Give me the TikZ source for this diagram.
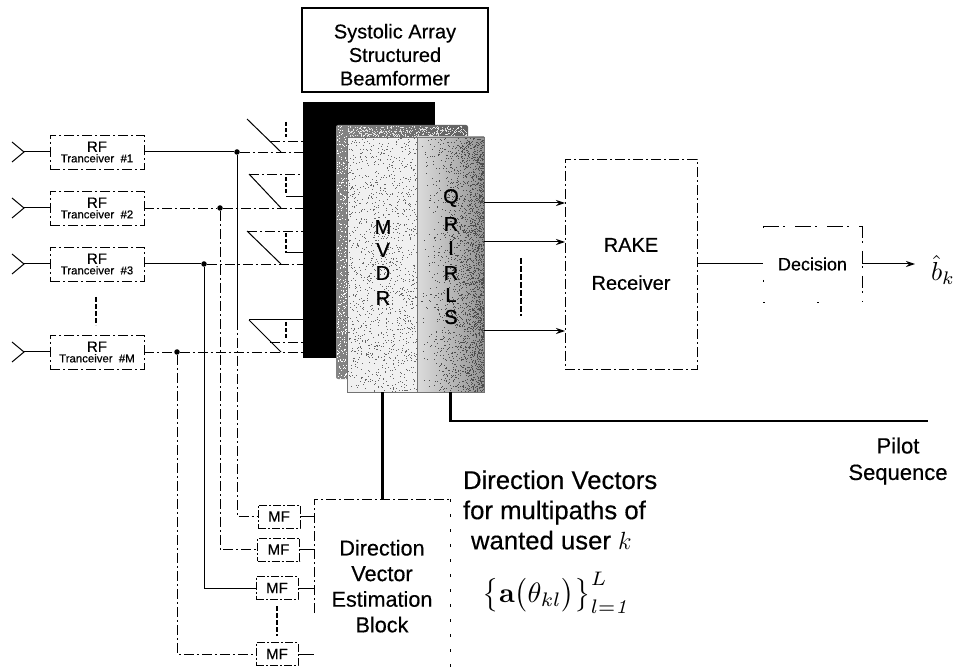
\documentclass[tikz,border=0pt]{standalone}
\usepackage[no-math]{fontspec}
\setmainfont[FakeBold=0.4]{Liberation Sans}
\newfontfamily\lblfont[FakeBold=1]{Liberation Sans}
\usetikzlibrary{arrows.meta,calc}
\newcommand{\fsz}[1]{\fontsize{#1}{#1}\selectfont}
\tikzset{
  wire/.style={line width=1pt,black},
  brk/.style={line width=0.8pt,black,dash pattern=on 10pt off 3pt on 2pt off 3pt},
  sparse/.style={line width=0.8pt,black,dash pattern=on 2pt off 16pt},
  thickdash/.style={line width=2pt,black,dash pattern=on 5pt off 2pt},
  sw/.style={line width=0.8pt,black,dash pattern=on 4pt off 2pt},
  arr/.style={wire,-{Stealth[length=9pt,width=6pt]}},
  rfbox/.style={brk,minimum width=94pt,minimum height=34pt,inner sep=0pt,outer sep=0pt,align=center,text opacity=1},
  mfbox/.style={line width=0.9pt,black,dash pattern=on 8pt off 2pt on 2pt off 2pt,minimum width=42pt,minimum height=23pt,inner sep=0pt,outer sep=0pt,font=\fsz{15}},
  layer/.style={inner sep=0pt,outer sep=0pt},
  jun/.style={circle,fill=black,inner sep=0pt,minimum size=5.5pt},
  lab/.style={inner sep=0pt,outer sep=0pt,align=center},
  big letter/.style={lab,font=\lblfont\fsz{20}},
}
\begin{document}
\begin{tikzpicture}[x=1pt,y=-1pt]
\useasboundingbox (0,0) rectangle (956,668);
\pgfmathsetseed{4711}
% top box
\node[draw=black,line width=1.1pt,minimum width=186pt,minimum height=84pt,inner sep=0pt,align=center,font=\fsz{20}] (sys) at (395,50) {\rule{0pt}{24pt}Systolic Array\\[3.5pt]Structured\\[3.5pt]Beamformer};
% stacked layers
\node[layer,fill=black,minimum width=132pt,minimum height=256pt] (blk) at (369,230) {};
\node[layer,left color=black!48,right color=black!62,minimum width=132pt,minimum height=254pt,rounded corners=2pt] (back) at (402,252) {};
\foreach \i in {1,...,400}{
  \pgfmathsetmacro{\px}{336.5+10.5*rnd}
  \pgfmathsetmacro{\py}{126+252*rnd}
  \fill[white] (\px,\py) rectangle +(0.7,0.7);
}
\foreach \i in {1,...,400}{
  \pgfmathsetmacro{\px}{347+120*rnd}
  \pgfmathsetmacro{\py}{126+11*rnd}
  \fill[white,opacity=0.8] (\px,\py) rectangle +(0.7,0.7);
}
\node[layer,fill=black!6,draw=black!55,line width=0.6pt,minimum width=70pt,minimum height=255pt] (mvdr) at (382,264.5) {};
\node[layer,left color=black!14,right color=black!42,draw=black!55,line width=0.6pt,minimum width=67pt,minimum height=255pt] (qr) at (450.5,264.5) {};
\foreach \i in {1,...,1300}{
  \pgfmathsetmacro{\px}{347.5+69*rnd}
  \pgfmathsetmacro{\py}{137.5+254*rnd}
  \fill[black!60] (\px,\py) rectangle +(0.55,0.55);
}
\foreach \i in {1,...,2500}{
  \pgfmathsetmacro{\px}{483.3-66*rnd*rnd}
  \pgfmathsetmacro{\py}{137.5+254*rnd}
  \fill[black!70] (\px,\py) rectangle +(0.6,0.6);
}
\foreach \t/\y in {M/227,V/250,D/273,R/298}
  \node[big letter] (m\t) at (383,\y) {\t};
\node[big letter] (q1) at (451,198) {Q};
\node[big letter] (q2) at (451,224) {R};
\node[big letter] (q3) at (451,248) {I};
\node[big letter] (q4) at (451,273) {R};
\node[big letter] (q5) at (451,295) {L};
\node[big letter] (q6) at (451,317) {S};
% RF boxes
\node[rfbox,draw] (rf1) at (97,152) {{\fsz{15}RF}\\[-1.5pt]{\fsz{11.4}Tranceiver\ \ \#1}};
\node[rfbox,draw] (rf2) at (97,208) {{\fsz{15}RF}\\[-1.5pt]{\fsz{11.4}Tranceiver\ \ \#2}};
\node[rfbox,draw] (rf3) at (97,264) {{\fsz{15}RF}\\[-1.5pt]{\fsz{11.4}Tranceiver\ \ \#3}};
\node[rfbox,draw] (rfm) at (97,352) {{\fsz{15}RF}\\[-1.5pt]{\fsz{11.4}Tranceiver\ \ \#M}};
% antennas
\foreach \n in {rf1,rf2,rf3,rfm}{
  \coordinate (t\n) at ($(\n.west)+(-26,0)$);
  \draw[wire] ($(t\n)+(-12,-10)$) -- (t\n) -- ($(t\n)+(-12,10)$);
  \draw[wire] (t\n) -- (\n.west);
}
% junctions
\node[jun] (j1) at (237,152) {};
\node[jun] (j2) at (220,208) {};
\node[jun] (j3) at (204,264) {};
\node[jun] (jm) at (177,352) {};
% feed lines
\draw[wire] (rf1.east) -- (j1);
\draw[brk] (j1) -- (j1 -| blk.west);
\draw[brk] (rf2.east) -- (j2);
\draw[brk] (j2) -- (j2 -| blk.west);
\draw[wire] (rf3.east) -- (j3);
\draw[brk] (j3) -- (j3 -| blk.west);
\draw[brk] (rfm.east) -- (jm);
\draw[brk] (jm) -- (jm -| blk.west);
% switches
\coordinate (s1a) at (247,119); \coordinate (s1b) at (281,152); \coordinate (s1c) at (270,141);
\coordinate (s2a) at (249,174); \coordinate (s2b) at (281,208); \coordinate (s2c) at (286,197);
\coordinate (s3a) at (247,231); \coordinate (s3b) at (281,264); \coordinate (s3c) at (286,253);
\coordinate (s4a) at (249,320); \coordinate (s4b) at (281,352); \coordinate (s4c) at (270,342);
\draw[wire] (s1a) -- (s1b);
\draw[brk] (s1c) -- (s1c -| blk.west);
\draw[wire] (s2a) -- (s2b);
\draw[brk] (s2a) -- (s2a -| blk.west);
\draw[wire] (s2c) -- (s2c -| blk.west);
\draw[wire] (s3a) -- (s3b);
\draw[brk] (s3a) -- (s3a -| blk.west);
\draw[wire] (s3c) -- (s3c -| blk.west);
\draw[wire] (s4a) -- (s4b);
\draw[wire] (s4a) -- (s4a -| blk.west);
\draw[brk] (s4c) -- (s4c -| blk.west);
% switch ganging marks
\coordinate (g1a) at (286,122); \coordinate (g1b) at (286,137);
\coordinate (g2a) at (286,177); \coordinate (g2b) at (286,194);
\coordinate (g3a) at (286,233); \coordinate (g3b) at (286,253);
\coordinate (g4a) at (286,322); \coordinate (g4b) at (286,338);
\foreach \g in {1,2,3,4} \draw[sw,line width=1.3pt] (g\g a) -- (g\g b);
% dots between RF boxes
\coordinate (d1a) at (96,297); \coordinate (d1b) at (96,325);
\draw[thickdash] (d1a) -- (d1b);
% MF boxes
\node[mfbox,draw] (mf1) at (279,516.5) {MF};
\node[mfbox,draw] (mf2) at (278.5,549.5) {MF};
\node[mfbox,draw] (mf3) at (277,588) {MF};
\node[mfbox,draw] (mf4) at (277,654) {MF};
\coordinate (d2a) at (277,606); \coordinate (d2b) at (277,636);
\draw[thickdash] (d2a) -- (d2b);
% MF feed lines
\coordinate (c1) at (237,320);
\draw[wire] (j1) -- (c1);
\draw[brk] (c1) |- (mf1.west);
\draw[brk] (j2) |- (mf2.west);
\draw[wire] (j3) |- (mf3.west);
\draw[brk] (jm) |- (mf4.west);
% estimation block
\node[lab,minimum width=136pt,minimum height=169pt,font=\fsz{21.6}] (dve) at (382,583.5) {\rule{0pt}{21pt}Direction\\[4pt]Vector\\[4pt]Estimation\\[4pt]Block};
\draw[brk] (dve.north west) ++(0,114) coordinate (dvl) -- (dve.north west) -- (dve.north east);
\draw[sparse,dash pattern=on 3pt off 12pt] (dve.north east) -- (dve.south east);
\draw[wire] (mf1.east) -- (mf1.east -| dve.west);
\draw[wire] (mf2.east) -- (mf2.east -| dve.west);
\draw[wire] (mf3.east) -- (mf3.east -| dve.west);
\draw[wire] (mf4.east) -- (mf4.east -| dve.west);
% MVDR to block, pilot
\draw[line width=3pt] (mvdr.south) -- (mvdr.south |- dve.north);
\coordinate (pil) at (928,421);
\draw[line width=2.4pt] (qr.south) -- (qr.south |- pil) -- (pil);
\node[lab,font=\fsz{22}] (piltxt) at (898,461) {Pilot\\[4.5pt]Sequence};
% RAKE
\node[lab,brk,draw,minimum width=132pt,minimum height=210pt,font=\fsz{20}] (rake) at (631,264) {RAKE\\[18pt]Receiver};
\coordinate (a1) at (rake.west |- 0,203);
\coordinate (a2) at (rake.west |- 0,242);
\coordinate (a3) at (rake.west |- 0,331);
\draw[arr] (a1 -| qr.east) -- (a1);
\draw[arr] (a2 -| qr.east) -- (a2);
\draw[arr] (a3 -| qr.east) -- (a3);
\coordinate (d3a) at (521,258); \coordinate (d3b) at (521,316);
\draw[thickdash,dash pattern=on 6pt off 2pt] (d3a) -- (d3b);
% decision
\node[lab,minimum width=99pt,minimum height=76pt,font=\fsz{18}] (dec) at (812.5,264) {Decision};
\draw[brk,dash pattern=on 16pt off 4pt on 2pt off 10pt] (dec.north west) -- (dec.north east);
\draw[brk,dash pattern=on 12pt off 3pt on 2pt off 8pt] (dec.north east) -- (dec.south east);
\draw[sparse,dash pattern=on 2pt off 52pt] (dec.north west) -- (dec.south west);
\draw[sparse,dash pattern=on 2pt off 52pt] (dec.south west) -- (dec.south east);
\draw[wire] (rake.east) -- (dec.west);
\node[lab] (bhat) at (943,270) {\scalebox{2.6}{$\hat{b}_{k}$}};
\coordinate (bend) at (915,264);
\draw[arr] (dec.east) -- (bend);
% direction vectors text
\node[lab,align=left,font=\fsz{25.7},anchor=west] (dirtxt) at (463,510) {Direction Vectors\\[4.5pt]for multipaths of\\[4.5pt]\hspace*{8pt}wanted user $k$};
\node[lab] (form) at (557,593) {\scalebox{2.8}{$\big\{\mathbf{a}\big(\theta_{kl}\big)\big\}_{l=\mathit{1}}^{L}$}};
\end{tikzpicture}
\end{document}
